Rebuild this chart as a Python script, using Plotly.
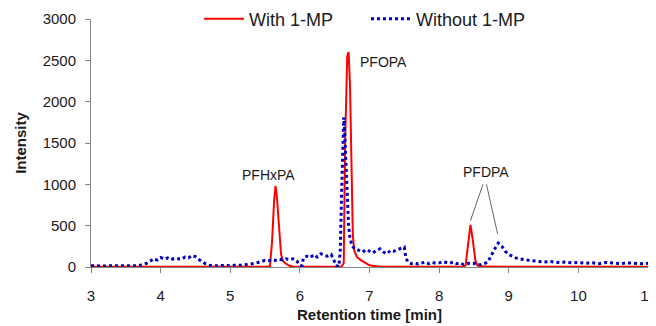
import plotly.graph_objects as go

# ---- Data ----
with_time = [3.00, 3.50, 4.00, 4.50, 5.00, 5.50, 5.57, 5.60, 5.63, 5.65, 5.67, 5.70, 5.73, 5.76,
             5.80, 5.85, 5.90, 6.00, 6.30, 6.60, 6.63, 6.65, 6.68, 6.70, 6.72, 6.74, 6.76,
             6.78, 6.82, 6.88, 6.95, 7.00, 7.10, 7.20, 7.60, 8.00, 8.35, 8.38, 8.42, 8.45,
             8.48, 8.52, 8.55, 8.60, 9.00, 9.50, 10.00, 10.50, 11.00]
with_int = [3, 2, 3, 2, 3, 4, 10, 300, 800, 980, 850, 450, 150, 70,
            40, 15, 5, 3, 3, 4, 50, 1500, 2550, 2600, 2200, 1200, 400,
            200, 120, 80, 40, 20, 8, 3, 3, 3, 3, 20, 350, 510,
            350, 80, 20, 5, 3, 3, 3, 3, 3]

without_time = [3.00, 3.05, 3.10, 3.15, 3.20, 3.25, 3.30, 3.35, 3.40, 3.45, 3.50, 3.55, 3.60,
                3.65, 3.70, 3.75, 3.80, 3.85, 3.90, 3.95, 4.00, 4.05, 4.10, 4.15, 4.20, 4.25,
                4.30, 4.35, 4.40, 4.45, 4.50, 4.55, 4.60, 4.65, 4.70, 4.75, 4.80, 4.85, 4.90,
                4.95, 5.00, 5.05, 5.10, 5.15, 5.20, 5.25, 5.30, 5.35, 5.40, 5.45, 5.50, 5.55,
                5.60, 5.65, 5.70, 5.75, 5.80, 5.85, 5.90, 5.95, 6.00, 6.03, 6.05, 6.10, 6.15,
                6.20, 6.25, 6.30, 6.35, 6.40, 6.45, 6.48, 6.52, 6.56, 6.58, 6.60, 6.62, 6.63,
                6.64, 6.66, 6.68, 6.70, 6.72, 6.75, 6.80, 6.85, 6.90, 6.95, 7.00, 7.05, 7.10,
                7.15, 7.20, 7.25, 7.30, 7.35, 7.40, 7.45, 7.50, 7.52, 7.55, 7.60, 7.65, 7.70,
                7.75, 7.80, 7.85, 7.90, 7.95, 8.00, 8.05, 8.10, 8.15, 8.20, 8.25, 8.30, 8.35,
                8.40, 8.45, 8.50, 8.55, 8.60, 8.65, 8.70, 8.75, 8.80, 8.85, 8.90, 8.95, 9.00,
                9.05, 9.10, 9.15, 9.20, 9.25, 9.30, 9.40, 9.50, 9.60, 9.70, 9.80, 9.90, 10.00,
                10.10, 10.20, 10.30, 10.40, 10.50, 10.60, 10.70, 10.80, 10.90, 11.00]
without_int = [15, 12, 16, 14, 12, 15, 13, 16, 12, 14, 15, 12, 18,
               14, 20, 30, 45, 70, 100, 85, 115, 95, 110, 90, 105, 100,
               95, 120, 110, 140, 125, 90, 60, 35, 22, 18, 15, 20, 16,
               18, 15, 20, 18, 22, 25, 30, 35, 45, 55, 70, 80, 75,
               90, 80, 95, 85, 100, 90, 100, 80, 20, 15, 110, 130, 115,
               150, 120, 160, 140, 130, 150, 100, 20, 5, 200, 900, 1600, 1810,
               1700, 1300, 800, 500, 350, 250, 220, 200, 180, 210, 190, 170, 200,
               220, 180, 160, 200, 190, 210, 230, 240, 120, 60, 40, 50, 35,
               45, 60, 40, 55, 45, 50, 65, 55, 45, 60, 40, 50, 30,
               40, 50, 45, 25, 30, 40, 60, 150, 220, 290, 250, 190, 150,
               130, 110, 100, 90, 85, 80, 70, 60, 65, 55, 60, 50, 55,
               45, 50, 40, 55, 45, 40, 50, 45, 40, 45]

peak_labels = ["PFHxPA", "PFOPA", "PFDPA"]
peak_label_x = [5.55, 6.84, 8.67]
peak_label_y = [1110, 2485, 1150]
pfdpa_line_start = [(8.63, 1000), (8.68, 1000)]
pfdpa_line_end = [(8.45, 560), (8.84, 400)]

FONT = "Liberation Sans, Arial, sans-serif"
AXIS_COLOR = "#868686"
TEXT_COLOR = "#1a1a1a"

# The page body has an 8px default margin, so the figure is sized to fit the window.
W, H = 648, 318

fig = go.Figure()
fig.add_trace(go.Scatter(x=with_time, y=with_int, mode="lines", name="With 1-MP",
                         line=dict(color="#ff0000", width=2)))
fig.add_trace(go.Scatter(x=without_time, y=without_int, mode="lines", name="Without 1-MP",
                         line=dict(color="#0000c0", width=3, dash="dot")))
# empty legend slot so the last legend label is not clipped
fig.add_trace(go.Scatter(x=[None], y=[None], mode="lines", name=" ",
                         line=dict(color="rgba(0,0,0,0)", width=0), hoverinfo="skip"))

for i, txt in enumerate(peak_labels):
    fig.add_annotation(x=peak_label_x[i], y=peak_label_y[i], text=txt, showarrow=False,
                       xanchor="left" if txt == "PFOPA" else "center",
                       font=dict(family=FONT, size=14, color=TEXT_COLOR))

for (x0, y0), (x1, y1) in zip(pfdpa_line_start, pfdpa_line_end):
    fig.add_shape(type="line", x0=x0, y0=y0, x1=x1, y1=y1, xref="x", yref="y",
                  line=dict(color="#666666", width=1))

fig.update_layout(
    width=W, height=H,
    margin=dict(l=83, r=8, t=11, b=59, autoexpand=False),
    paper_bgcolor="white", plot_bgcolor="white",
    font=dict(family=FONT, size=15, color=TEXT_COLOR),
    showlegend=True,
    legend=dict(orientation="h", xref="container", x=191 / W, xanchor="left",
                yref="container", y=1 - 11 / H, yanchor="middle",
                bgcolor="rgba(0,0,0,0)", font=dict(size=18), itemwidth=40,
                entrywidth=112),
    xaxis=dict(range=[3, 11], dtick=1, tick0=3, showgrid=False, zeroline=False,
               showline=True, linecolor=AXIS_COLOR, linewidth=1,
               ticks="outside", ticklen=5, tickcolor=AXIS_COLOR,
               ticklabelstandoff=10, ticklabeloverflow="allow", automargin=False,
               title=dict(text="<b>Retention time [min]</b>", font=dict(size=15), standoff=6)),
    yaxis=dict(range=[0, 3000], dtick=500, showgrid=False, zeroline=False,
               showline=True, linecolor=AXIS_COLOR, linewidth=1,
               ticks="outside", ticklen=5, tickcolor=AXIS_COLOR,
               ticklabelstandoff=6, automargin=False,
               title=dict(text="<b>Intensity</b>", font=dict(size=15), standoff=12)),
)

fig.write_html("out.html")
